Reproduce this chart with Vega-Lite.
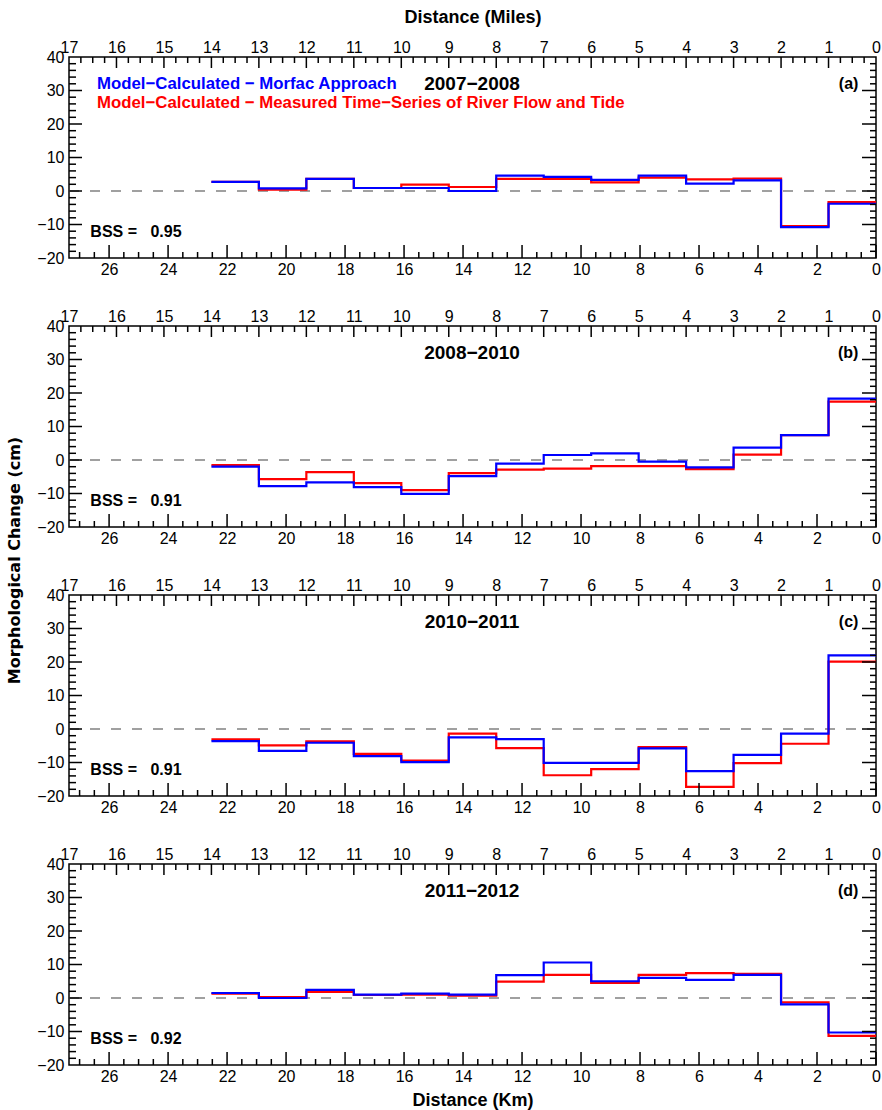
{
  "$schema": "https://vega.github.io/schema/vega-lite/v6.json",
  "padding": {"left": 5, "top": 7, "right": 2, "bottom": 0},
  "bounds": "flush",
  "spacing": 68,
  "background": "white",
  "datasets": {
    "kmMaj": [{"k":0},{"k":2},{"k":4},{"k":6},{"k":8},{"k":10},{"k":12},{"k":14},{"k":16},{"k":18},{"k":20},{"k":22},{"k":24},{"k":26}],
    "kmMin": [{"k":0.5},{"k":1},{"k":1.5},{"k":2.5},{"k":3},{"k":3.5},{"k":4.5},{"k":5},{"k":5.5},{"k":6.5},{"k":7},{"k":7.5},{"k":8.5},{"k":9},{"k":9.5},{"k":10.5},{"k":11},{"k":11.5},{"k":12.5},{"k":13},{"k":13.5},{"k":14.5},{"k":15},{"k":15.5},{"k":16.5},{"k":17},{"k":17.5},{"k":18.5},{"k":19},{"k":19.5},{"k":20.5},{"k":21},{"k":21.5},{"k":22.5},{"k":23},{"k":23.5},{"k":24.5},{"k":25},{"k":25.5},{"k":26.5},{"k":27}],
    "miMaj": [{"mi":1},{"mi":2},{"mi":3},{"mi":4},{"mi":5},{"mi":6},{"mi":7},{"mi":8},{"mi":9},{"mi":10},{"mi":11},{"mi":12},{"mi":13},{"mi":14},{"mi":15},{"mi":16}],
    "miMin": [{"mi":0.25},{"mi":0.5},{"mi":0.75},{"mi":1.25},{"mi":1.5},{"mi":1.75},{"mi":2.25},{"mi":2.5},{"mi":2.75},{"mi":3.25},{"mi":3.5},{"mi":3.75},{"mi":4.25},{"mi":4.5},{"mi":4.75},{"mi":5.25},{"mi":5.5},{"mi":5.75},{"mi":6.25},{"mi":6.5},{"mi":6.75},{"mi":7.25},{"mi":7.5},{"mi":7.75},{"mi":8.25},{"mi":8.5},{"mi":8.75},{"mi":9.25},{"mi":9.5},{"mi":9.75},{"mi":10.25},{"mi":10.5},{"mi":10.75},{"mi":11.25},{"mi":11.5},{"mi":11.75},{"mi":12.25},{"mi":12.5},{"mi":12.75},{"mi":13.25},{"mi":13.5},{"mi":13.75},{"mi":14.25},{"mi":14.5},{"mi":14.75},{"mi":15.25},{"mi":15.5},{"mi":15.75},{"mi":16.25},{"mi":16.5},{"mi":16.75}],
    "yMaj": [{"yv":-10},{"yv":0},{"yv":10},{"yv":20},{"yv":30}],
    "yMin": [{"yv":-18},{"yv":-16},{"yv":-14},{"yv":-12},{"yv":-8},{"yv":-6},{"yv":-4},{"yv":-2},{"yv":2},{"yv":4},{"yv":6},{"yv":8},{"yv":12},{"yv":14},{"yv":16},{"yv":18},{"yv":22},{"yv":24},{"yv":26},{"yv":28},{"yv":32},{"yv":34},{"yv":36},{"yv":38}],
    "a": [
      {"s":"red","m":0,"v":-3.3},{"s":"red","m":1,"v":-10.5},{"s":"red","m":2,"v":3.7},{"s":"red","m":3,"v":3.5},{"s":"red","m":4,"v":4.0},{"s":"red","m":5,"v":2.6},{"s":"red","m":6,"v":3.6},{"s":"red","m":7,"v":3.6},{"s":"red","m":8,"v":1.2},{"s":"red","m":9,"v":1.9},{"s":"red","m":10,"v":0.9},{"s":"red","m":11,"v":3.6},{"s":"red","m":12,"v":0.4},{"s":"red","m":13,"v":2.7},{"s":"red","m":14,"v":2.7},
      {"s":"blue","m":0,"v":-3.8},{"s":"blue","m":1,"v":-10.8},{"s":"blue","m":2,"v":3.2},{"s":"blue","m":3,"v":2.2},{"s":"blue","m":4,"v":4.6},{"s":"blue","m":5,"v":3.3},{"s":"blue","m":6,"v":4.2},{"s":"blue","m":7,"v":4.6},{"s":"blue","m":8,"v":0.0},{"s":"blue","m":9,"v":0.9},{"s":"blue","m":10,"v":0.9},{"s":"blue","m":11,"v":3.6},{"s":"blue","m":12,"v":0.8},{"s":"blue","m":13,"v":2.7},{"s":"blue","m":14,"v":2.7}
    ],
    "b": [
      {"s":"red","m":0,"v":17.4},{"s":"red","m":1,"v":7.4},{"s":"red","m":2,"v":1.6},{"s":"red","m":3,"v":-2.7},{"s":"red","m":4,"v":-1.8},{"s":"red","m":5,"v":-1.8},{"s":"red","m":6,"v":-2.6},{"s":"red","m":7,"v":-2.9},{"s":"red","m":8,"v":-3.9},{"s":"red","m":9,"v":-9.0},{"s":"red","m":10,"v":-6.9},{"s":"red","m":11,"v":-3.6},{"s":"red","m":12,"v":-5.7},{"s":"red","m":13,"v":-1.5},{"s":"red","m":14,"v":-1.5},
      {"s":"blue","m":0,"v":18.3},{"s":"blue","m":1,"v":7.4},{"s":"blue","m":2,"v":3.7},{"s":"blue","m":3,"v":-2.2},{"s":"blue","m":4,"v":-0.5},{"s":"blue","m":5,"v":2.0},{"s":"blue","m":6,"v":1.5},{"s":"blue","m":7,"v":-1.1},{"s":"blue","m":8,"v":-4.8},{"s":"blue","m":9,"v":-10.1},{"s":"blue","m":10,"v":-8.1},{"s":"blue","m":11,"v":-6.7},{"s":"blue","m":12,"v":-7.8},{"s":"blue","m":13,"v":-2.0},{"s":"blue","m":14,"v":-2.0}
    ],
    "c": [
      {"s":"red","m":0,"v":20.1},{"s":"red","m":1,"v":-4.4},{"s":"red","m":2,"v":-10.2},{"s":"red","m":3,"v":-17.3},{"s":"red","m":4,"v":-5.4},{"s":"red","m":5,"v":-12.0},{"s":"red","m":6,"v":-13.8},{"s":"red","m":7,"v":-5.7},{"s":"red","m":8,"v":-1.4},{"s":"red","m":9,"v":-9.4},{"s":"red","m":10,"v":-7.4},{"s":"red","m":11,"v":-3.7},{"s":"red","m":12,"v":-4.9},{"s":"red","m":13,"v":-3.1},{"s":"red","m":14,"v":-3.1},
      {"s":"blue","m":0,"v":22.0},{"s":"blue","m":1,"v":-1.4},{"s":"blue","m":2,"v":-7.7},{"s":"blue","m":3,"v":-12.6},{"s":"blue","m":4,"v":-5.8},{"s":"blue","m":5,"v":-10.1},{"s":"blue","m":6,"v":-10.1},{"s":"blue","m":7,"v":-3.0},{"s":"blue","m":8,"v":-2.5},{"s":"blue","m":9,"v":-9.9},{"s":"blue","m":10,"v":-8.1},{"s":"blue","m":11,"v":-4.1},{"s":"blue","m":12,"v":-6.5},{"s":"blue","m":13,"v":-3.6},{"s":"blue","m":14,"v":-3.6}
    ],
    "d": [
      {"s":"red","m":0,"v":-11.3},{"s":"red","m":1,"v":-1.3},{"s":"red","m":2,"v":7.2},{"s":"red","m":3,"v":7.4},{"s":"red","m":4,"v":6.9},{"s":"red","m":5,"v":4.5},{"s":"red","m":6,"v":6.9},{"s":"red","m":7,"v":4.9},{"s":"red","m":8,"v":0.7},{"s":"red","m":9,"v":1.0},{"s":"red","m":10,"v":0.9},{"s":"red","m":11,"v":1.8},{"s":"red","m":12,"v":0.3},{"s":"red","m":13,"v":1.3},{"s":"red","m":14,"v":1.3},
      {"s":"blue","m":0,"v":-10.3},{"s":"blue","m":1,"v":-1.9},{"s":"blue","m":2,"v":6.9},{"s":"blue","m":3,"v":5.4},{"s":"blue","m":4,"v":6.0},{"s":"blue","m":5,"v":5.0},{"s":"blue","m":6,"v":10.6},{"s":"blue","m":7,"v":6.8},{"s":"blue","m":8,"v":1.0},{"s":"blue","m":9,"v":1.3},{"s":"blue","m":10,"v":1.0},{"s":"blue","m":11,"v":2.4},{"s":"blue","m":12,"v":0.0},{"s":"blue","m":13,"v":1.5},{"s":"blue","m":14,"v":1.5}
    ]
  },
  "vconcat": [
    {
      "width": 807, "height": 201,
      "layer": [
        {
          "data": {"values": [{"ref": 0}]},
          "mark": {"type": "rule", "strokeDash": [10, 11], "color": "#a0a0a0", "strokeWidth": 2},
          "encoding": {
            "x": {"datum": 27.359, "type": "quantitative", "scale": {"domain": [0, 27.359], "reverse": true, "nice": false, "zero": false},
                  "axis": {"orient": "bottom", "values": [0,2,4,6,8,10,12,14,16,18,20,22,24,26], "tickCount": 1000, "format": "d", "grid": false, "domain": false, "ticks": false, "labelFont": "Liberation Sans", "labelFontSize": 16, "labelColor": "#000000", "labelFlush": false, "labelOverlap": false, "labelPadding": 3, "title": null}},
            "x2": {"datum": 0},
            "y": {"field": "ref", "type": "quantitative", "scale": {"domain": [-20, 40], "nice": false, "zero": false}, "axis": null}
          }
        },
        {
          "data": {"name": "a"},
          "layer": [
            {
              "transform": [{"filter": "datum.s === 'red'"}],
              "mark": {"type": "line", "interpolate": "step-after", "color": "#ff0000", "strokeWidth": 2.2},
              "encoding": {
                "x": {"field": "m", "type": "quantitative", "scale": {"domain": [0, 17], "reverse": true, "nice": false, "zero": false},
                      "axis": {"orient": "top", "values": [0,1,2,3,4,5,6,7,8,9,10,11,12,13,14,15,16,17], "tickCount": 1000, "format": "d", "grid": false, "domain": false, "ticks": false, "labelFont": "Liberation Sans", "labelFontSize": 16, "labelColor": "#000000", "labelFlush": false, "labelOverlap": false, "labelPadding": 2,
                               "title": "Distance (Miles)", "titleFont": "Liberation Sans", "titleFontSize": 18, "titleFontWeight": "bold", "titleColor": "#000000", "titlePadding": 13}},
                "y": {"field": "v", "type": "quantitative", "scale": {"domain": [-20, 40], "nice": false, "zero": false},
                      "axis": {"orient": "left", "values": [-20,-10,0,10,20,30,40], "tickCount": 1000, "format": "d", "grid": false, "domain": false, "ticks": false, "labelFont": "Liberation Sans", "labelFontSize": 16, "labelColor": "#000000", "labelFlush": false, "labelOverlap": false, "labelPadding": 5, "title": null}},
                "order": {"field": "m", "type": "quantitative", "sort": "ascending"}
              }
            },
            {
              "transform": [{"filter": "datum.s === 'blue'"}],
              "mark": {"type": "line", "interpolate": "step-after", "color": "#0000ff", "strokeWidth": 2.2},
              "encoding": {"x": {"field": "m", "type": "quantitative"}, "y": {"field": "v", "type": "quantitative"}, "order": {"field": "m", "type": "quantitative", "sort": "ascending"}}
            },
            {
              "data": {"values": [{"t": "Model\u2212Calculated \u2212 Morfac Approach"}]},
              "mark": {"type": "text", "align": "left", "baseline": "middle", "font": "Liberation Sans", "fontSize": 16.8, "fontWeight": "bold", "color": "#0000ff"},
              "encoding": {"x": {"datum": 16.41, "type": "quantitative"}, "y": {"datum": 31.8, "type": "quantitative"}, "text": {"field": "t"}}
            },
            {
              "data": {"values": [{"t": "Model\u2212Calculated \u2212 Measured Time\u2212Series of River Flow and Tide"}]},
              "mark": {"type": "text", "align": "left", "baseline": "middle", "font": "Liberation Sans", "fontSize": 16.8, "fontWeight": "bold", "color": "#ff0000"},
              "encoding": {"x": {"datum": 16.41, "type": "quantitative"}, "y": {"datum": 26.3, "type": "quantitative"}, "text": {"field": "t"}}
            },
            {
              "data": {"values": [{"t": "2007\u22122008"}]},
              "mark": {"type": "text", "align": "center", "baseline": "middle", "font": "Liberation Sans", "fontSize": 19, "fontWeight": "bold", "color": "black"},
              "encoding": {"x": {"datum": 8.51, "type": "quantitative"}, "y": {"datum": 32, "type": "quantitative"}, "text": {"field": "t"}}
            },
            {
              "data": {"values": [{"t": "(a)"}]},
              "mark": {"type": "text", "align": "right", "baseline": "middle", "font": "Liberation Sans", "fontSize": 16, "fontWeight": "bold", "color": "black"},
              "encoding": {"x": {"datum": 0.37, "type": "quantitative"}, "y": {"datum": 32, "type": "quantitative"}, "text": {"field": "t"}}
            },
            {
              "data": {"values": [{"t": "BSS =\u00a0\u00a0\u00a00.95"}]},
              "mark": {"type": "text", "align": "left", "baseline": "middle", "font": "Liberation Sans", "fontSize": 16, "fontWeight": "bold", "color": "black"},
              "encoding": {"x": {"datum": 16.55, "type": "quantitative"}, "y": {"datum": -12.2, "type": "quantitative"}, "text": {"field": "t"}}
            }
          ]
        },
        {"data": {"name": "kmMaj"}, "mark": {"type": "rule", "color": "#000000", "strokeWidth": 1.5},
         "encoding": {"x": {"field": "k", "type": "quantitative", "scale": {"domain": [0, 27.359], "reverse": true, "nice": false, "zero": false}, "axis": null},
                      "y": {"datum": -20, "type": "quantitative", "scale": {"domain": [-20, 40], "nice": false, "zero": false}, "axis": null}, "y2": {"datum": -16.12}}},
        {"data": {"name": "kmMin"}, "mark": {"type": "rule", "color": "#000000", "strokeWidth": 1.5},
         "encoding": {"x": {"field": "k", "type": "quantitative", "scale": {"domain": [0, 27.359], "reverse": true, "nice": false, "zero": false}, "axis": null},
                      "y": {"datum": -20, "type": "quantitative", "scale": {"domain": [-20, 40], "nice": false, "zero": false}, "axis": null}, "y2": {"datum": -18.21}}},
        {"data": {"name": "miMaj"}, "mark": {"type": "rule", "color": "#000000", "strokeWidth": 1.5},
         "encoding": {"x": {"field": "mi", "type": "quantitative", "scale": {"domain": [0, 17], "reverse": true, "nice": false, "zero": false}, "axis": null},
                      "y": {"datum": 40, "type": "quantitative", "scale": {"domain": [-20, 40], "nice": false, "zero": false}, "axis": null}, "y2": {"datum": 36.72}}},
        {"data": {"name": "miMin"}, "mark": {"type": "rule", "color": "#000000", "strokeWidth": 1.5},
         "encoding": {"x": {"field": "mi", "type": "quantitative", "scale": {"domain": [0, 17], "reverse": true, "nice": false, "zero": false}, "axis": null},
                      "y": {"datum": 40, "type": "quantitative", "scale": {"domain": [-20, 40], "nice": false, "zero": false}, "axis": null}, "y2": {"datum": 38.21}}},
        {"data": {"name": "yMaj"}, "mark": {"type": "rule", "color": "#000000", "strokeWidth": 1.5},
         "encoding": {"y": {"field": "yv", "type": "quantitative", "scale": {"domain": [-20, 40], "nice": false, "zero": false}, "axis": null},
                      "x": {"datum": 27.359, "type": "quantitative", "scale": {"domain": [0, 27.359], "reverse": true, "nice": false, "zero": false}, "axis": null}, "x2": {"datum": 26.918}}},
        {"data": {"name": "yMin"}, "mark": {"type": "rule", "color": "#000000", "strokeWidth": 1.5},
         "encoding": {"y": {"field": "yv", "type": "quantitative", "scale": {"domain": [-20, 40], "nice": false, "zero": false}, "axis": null},
                      "x": {"datum": 27.359, "type": "quantitative", "scale": {"domain": [0, 27.359], "reverse": true, "nice": false, "zero": false}, "axis": null}, "x2": {"datum": 27.122}}},
        {"data": {"name": "yMaj"}, "mark": {"type": "rule", "color": "#000000", "strokeWidth": 1.5},
         "encoding": {"y": {"field": "yv", "type": "quantitative", "scale": {"domain": [-20, 40], "nice": false, "zero": false}, "axis": null},
                      "x": {"datum": 0, "type": "quantitative", "scale": {"domain": [0, 27.359], "reverse": true, "nice": false, "zero": false}, "axis": null}, "x2": {"datum": 0.4746}}},
        {"data": {"name": "yMin"}, "mark": {"type": "rule", "color": "#000000", "strokeWidth": 1.5},
         "encoding": {"y": {"field": "yv", "type": "quantitative", "scale": {"domain": [-20, 40], "nice": false, "zero": false}, "axis": null},
                      "x": {"datum": 0, "type": "quantitative", "scale": {"domain": [0, 27.359], "reverse": true, "nice": false, "zero": false}, "axis": null}, "x2": {"datum": 0.2034}}}
      ],
      "resolve": {"scale": {"x": "independent", "y": "independent"}, "axis": {"x": "independent", "y": "independent"}}
    },
    {
      "width": 807, "height": 201,
      "layer": [
        {
          "data": {"values": [{"ref": 0}]},
          "mark": {"type": "rule", "strokeDash": [10, 11], "color": "#a0a0a0", "strokeWidth": 2},
          "encoding": {
            "x": {"datum": 27.359, "type": "quantitative", "scale": {"domain": [0, 27.359], "reverse": true, "nice": false, "zero": false},
                  "axis": {"orient": "bottom", "values": [0,2,4,6,8,10,12,14,16,18,20,22,24,26], "tickCount": 1000, "format": "d", "grid": false, "domain": false, "ticks": false, "labelFont": "Liberation Sans", "labelFontSize": 16, "labelColor": "#000000", "labelFlush": false, "labelOverlap": false, "labelPadding": 3, "title": null}},
            "x2": {"datum": 0},
            "y": {"field": "ref", "type": "quantitative", "scale": {"domain": [-20, 40], "nice": false, "zero": false}, "axis": null}
          }
        },
        {
          "data": {"name": "b"},
          "layer": [
            {
              "transform": [{"filter": "datum.s === 'red'"}],
              "mark": {"type": "line", "interpolate": "step-after", "color": "#ff0000", "strokeWidth": 2.2},
              "encoding": {
                "x": {"field": "m", "type": "quantitative", "scale": {"domain": [0, 17], "reverse": true, "nice": false, "zero": false},
                      "axis": {"orient": "top", "values": [0,1,2,3,4,5,6,7,8,9,10,11,12,13,14,15,16,17], "tickCount": 1000, "format": "d", "grid": false, "domain": false, "ticks": false, "labelFont": "Liberation Sans", "labelFontSize": 16, "labelColor": "#000000", "labelFlush": false, "labelOverlap": false, "labelPadding": 2, "title": null}},
                "y": {"field": "v", "type": "quantitative", "scale": {"domain": [-20, 40], "nice": false, "zero": false},
                      "axis": {"orient": "left", "values": [-20,-10,0,10,20,30,40], "tickCount": 1000, "format": "d", "grid": false, "domain": false, "ticks": false, "labelFont": "Liberation Sans", "labelFontSize": 16, "labelColor": "#000000", "labelFlush": false, "labelOverlap": false, "labelPadding": 5,
                               "title": "Morphological Change (cm)", "titleFont": "DejaVu Sans", "titleFontSize": 16, "titleFontWeight": "bold", "titleColor": "#000000",
                               "titleAngle": 270, "titleAlign": "center", "titleBaseline": "alphabetic", "titleX": -50, "titleY": 234}},
                "order": {"field": "m", "type": "quantitative", "sort": "ascending"}
              }
            },
            {
              "transform": [{"filter": "datum.s === 'blue'"}],
              "mark": {"type": "line", "interpolate": "step-after", "color": "#0000ff", "strokeWidth": 2.2},
              "encoding": {"x": {"field": "m", "type": "quantitative"}, "y": {"field": "v", "type": "quantitative"}, "order": {"field": "m", "type": "quantitative", "sort": "ascending"}}
            },
            {
              "data": {"values": [{"t": "2008\u22122010"}]},
              "mark": {"type": "text", "align": "center", "baseline": "middle", "font": "Liberation Sans", "fontSize": 19, "fontWeight": "bold", "color": "black"},
              "encoding": {"x": {"datum": 8.51, "type": "quantitative"}, "y": {"datum": 32, "type": "quantitative"}, "text": {"field": "t"}}
            },
            {
              "data": {"values": [{"t": "(b)"}]},
              "mark": {"type": "text", "align": "right", "baseline": "middle", "font": "Liberation Sans", "fontSize": 16, "fontWeight": "bold", "color": "black"},
              "encoding": {"x": {"datum": 0.37, "type": "quantitative"}, "y": {"datum": 32, "type": "quantitative"}, "text": {"field": "t"}}
            },
            {
              "data": {"values": [{"t": "BSS =\u00a0\u00a0\u00a00.91"}]},
              "mark": {"type": "text", "align": "left", "baseline": "middle", "font": "Liberation Sans", "fontSize": 16, "fontWeight": "bold", "color": "black"},
              "encoding": {"x": {"datum": 16.55, "type": "quantitative"}, "y": {"datum": -12.2, "type": "quantitative"}, "text": {"field": "t"}}
            }
          ]
        },
        {"data": {"name": "kmMaj"}, "mark": {"type": "rule", "color": "#000000", "strokeWidth": 1.5},
         "encoding": {"x": {"field": "k", "type": "quantitative", "scale": {"domain": [0, 27.359], "reverse": true, "nice": false, "zero": false}, "axis": null},
                      "y": {"datum": -20, "type": "quantitative", "scale": {"domain": [-20, 40], "nice": false, "zero": false}, "axis": null}, "y2": {"datum": -16.12}}},
        {"data": {"name": "kmMin"}, "mark": {"type": "rule", "color": "#000000", "strokeWidth": 1.5},
         "encoding": {"x": {"field": "k", "type": "quantitative", "scale": {"domain": [0, 27.359], "reverse": true, "nice": false, "zero": false}, "axis": null},
                      "y": {"datum": -20, "type": "quantitative", "scale": {"domain": [-20, 40], "nice": false, "zero": false}, "axis": null}, "y2": {"datum": -18.21}}},
        {"data": {"name": "miMaj"}, "mark": {"type": "rule", "color": "#000000", "strokeWidth": 1.5},
         "encoding": {"x": {"field": "mi", "type": "quantitative", "scale": {"domain": [0, 17], "reverse": true, "nice": false, "zero": false}, "axis": null},
                      "y": {"datum": 40, "type": "quantitative", "scale": {"domain": [-20, 40], "nice": false, "zero": false}, "axis": null}, "y2": {"datum": 36.72}}},
        {"data": {"name": "miMin"}, "mark": {"type": "rule", "color": "#000000", "strokeWidth": 1.5},
         "encoding": {"x": {"field": "mi", "type": "quantitative", "scale": {"domain": [0, 17], "reverse": true, "nice": false, "zero": false}, "axis": null},
                      "y": {"datum": 40, "type": "quantitative", "scale": {"domain": [-20, 40], "nice": false, "zero": false}, "axis": null}, "y2": {"datum": 38.21}}},
        {"data": {"name": "yMaj"}, "mark": {"type": "rule", "color": "#000000", "strokeWidth": 1.5},
         "encoding": {"y": {"field": "yv", "type": "quantitative", "scale": {"domain": [-20, 40], "nice": false, "zero": false}, "axis": null},
                      "x": {"datum": 27.359, "type": "quantitative", "scale": {"domain": [0, 27.359], "reverse": true, "nice": false, "zero": false}, "axis": null}, "x2": {"datum": 26.918}}},
        {"data": {"name": "yMin"}, "mark": {"type": "rule", "color": "#000000", "strokeWidth": 1.5},
         "encoding": {"y": {"field": "yv", "type": "quantitative", "scale": {"domain": [-20, 40], "nice": false, "zero": false}, "axis": null},
                      "x": {"datum": 27.359, "type": "quantitative", "scale": {"domain": [0, 27.359], "reverse": true, "nice": false, "zero": false}, "axis": null}, "x2": {"datum": 27.122}}},
        {"data": {"name": "yMaj"}, "mark": {"type": "rule", "color": "#000000", "strokeWidth": 1.5},
         "encoding": {"y": {"field": "yv", "type": "quantitative", "scale": {"domain": [-20, 40], "nice": false, "zero": false}, "axis": null},
                      "x": {"datum": 0, "type": "quantitative", "scale": {"domain": [0, 27.359], "reverse": true, "nice": false, "zero": false}, "axis": null}, "x2": {"datum": 0.4746}}},
        {"data": {"name": "yMin"}, "mark": {"type": "rule", "color": "#000000", "strokeWidth": 1.5},
         "encoding": {"y": {"field": "yv", "type": "quantitative", "scale": {"domain": [-20, 40], "nice": false, "zero": false}, "axis": null},
                      "x": {"datum": 0, "type": "quantitative", "scale": {"domain": [0, 27.359], "reverse": true, "nice": false, "zero": false}, "axis": null}, "x2": {"datum": 0.2034}}}
      ],
      "resolve": {"scale": {"x": "independent", "y": "independent"}, "axis": {"x": "independent", "y": "independent"}}
    },
    {
      "width": 807, "height": 201,
      "layer": [
        {
          "data": {"values": [{"ref": 0}]},
          "mark": {"type": "rule", "strokeDash": [10, 11], "color": "#a0a0a0", "strokeWidth": 2},
          "encoding": {
            "x": {"datum": 27.359, "type": "quantitative", "scale": {"domain": [0, 27.359], "reverse": true, "nice": false, "zero": false},
                  "axis": {"orient": "bottom", "values": [0,2,4,6,8,10,12,14,16,18,20,22,24,26], "tickCount": 1000, "format": "d", "grid": false, "domain": false, "ticks": false, "labelFont": "Liberation Sans", "labelFontSize": 16, "labelColor": "#000000", "labelFlush": false, "labelOverlap": false, "labelPadding": 3, "title": null}},
            "x2": {"datum": 0},
            "y": {"field": "ref", "type": "quantitative", "scale": {"domain": [-20, 40], "nice": false, "zero": false}, "axis": null}
          }
        },
        {
          "data": {"name": "c"},
          "layer": [
            {
              "transform": [{"filter": "datum.s === 'red'"}],
              "mark": {"type": "line", "interpolate": "step-after", "color": "#ff0000", "strokeWidth": 2.2},
              "encoding": {
                "x": {"field": "m", "type": "quantitative", "scale": {"domain": [0, 17], "reverse": true, "nice": false, "zero": false},
                      "axis": {"orient": "top", "values": [0,1,2,3,4,5,6,7,8,9,10,11,12,13,14,15,16,17], "tickCount": 1000, "format": "d", "grid": false, "domain": false, "ticks": false, "labelFont": "Liberation Sans", "labelFontSize": 16, "labelColor": "#000000", "labelFlush": false, "labelOverlap": false, "labelPadding": 2, "title": null}},
                "y": {"field": "v", "type": "quantitative", "scale": {"domain": [-20, 40], "nice": false, "zero": false},
                      "axis": {"orient": "left", "values": [-20,-10,0,10,20,30,40], "tickCount": 1000, "format": "d", "grid": false, "domain": false, "ticks": false, "labelFont": "Liberation Sans", "labelFontSize": 16, "labelColor": "#000000", "labelFlush": false, "labelOverlap": false, "labelPadding": 5, "title": null}},
                "order": {"field": "m", "type": "quantitative", "sort": "ascending"}
              }
            },
            {
              "transform": [{"filter": "datum.s === 'blue'"}],
              "mark": {"type": "line", "interpolate": "step-after", "color": "#0000ff", "strokeWidth": 2.2},
              "encoding": {"x": {"field": "m", "type": "quantitative"}, "y": {"field": "v", "type": "quantitative"}, "order": {"field": "m", "type": "quantitative", "sort": "ascending"}}
            },
            {
              "data": {"values": [{"t": "2010\u22122011"}]},
              "mark": {"type": "text", "align": "center", "baseline": "middle", "font": "Liberation Sans", "fontSize": 19, "fontWeight": "bold", "color": "black"},
              "encoding": {"x": {"datum": 8.51, "type": "quantitative"}, "y": {"datum": 32, "type": "quantitative"}, "text": {"field": "t"}}
            },
            {
              "data": {"values": [{"t": "(c)"}]},
              "mark": {"type": "text", "align": "right", "baseline": "middle", "font": "Liberation Sans", "fontSize": 16, "fontWeight": "bold", "color": "black"},
              "encoding": {"x": {"datum": 0.37, "type": "quantitative"}, "y": {"datum": 32, "type": "quantitative"}, "text": {"field": "t"}}
            },
            {
              "data": {"values": [{"t": "BSS =\u00a0\u00a0\u00a00.91"}]},
              "mark": {"type": "text", "align": "left", "baseline": "middle", "font": "Liberation Sans", "fontSize": 16, "fontWeight": "bold", "color": "black"},
              "encoding": {"x": {"datum": 16.55, "type": "quantitative"}, "y": {"datum": -12.2, "type": "quantitative"}, "text": {"field": "t"}}
            }
          ]
        },
        {"data": {"name": "kmMaj"}, "mark": {"type": "rule", "color": "#000000", "strokeWidth": 1.5},
         "encoding": {"x": {"field": "k", "type": "quantitative", "scale": {"domain": [0, 27.359], "reverse": true, "nice": false, "zero": false}, "axis": null},
                      "y": {"datum": -20, "type": "quantitative", "scale": {"domain": [-20, 40], "nice": false, "zero": false}, "axis": null}, "y2": {"datum": -16.12}}},
        {"data": {"name": "kmMin"}, "mark": {"type": "rule", "color": "#000000", "strokeWidth": 1.5},
         "encoding": {"x": {"field": "k", "type": "quantitative", "scale": {"domain": [0, 27.359], "reverse": true, "nice": false, "zero": false}, "axis": null},
                      "y": {"datum": -20, "type": "quantitative", "scale": {"domain": [-20, 40], "nice": false, "zero": false}, "axis": null}, "y2": {"datum": -18.21}}},
        {"data": {"name": "miMaj"}, "mark": {"type": "rule", "color": "#000000", "strokeWidth": 1.5},
         "encoding": {"x": {"field": "mi", "type": "quantitative", "scale": {"domain": [0, 17], "reverse": true, "nice": false, "zero": false}, "axis": null},
                      "y": {"datum": 40, "type": "quantitative", "scale": {"domain": [-20, 40], "nice": false, "zero": false}, "axis": null}, "y2": {"datum": 36.72}}},
        {"data": {"name": "miMin"}, "mark": {"type": "rule", "color": "#000000", "strokeWidth": 1.5},
         "encoding": {"x": {"field": "mi", "type": "quantitative", "scale": {"domain": [0, 17], "reverse": true, "nice": false, "zero": false}, "axis": null},
                      "y": {"datum": 40, "type": "quantitative", "scale": {"domain": [-20, 40], "nice": false, "zero": false}, "axis": null}, "y2": {"datum": 38.21}}},
        {"data": {"name": "yMaj"}, "mark": {"type": "rule", "color": "#000000", "strokeWidth": 1.5},
         "encoding": {"y": {"field": "yv", "type": "quantitative", "scale": {"domain": [-20, 40], "nice": false, "zero": false}, "axis": null},
                      "x": {"datum": 27.359, "type": "quantitative", "scale": {"domain": [0, 27.359], "reverse": true, "nice": false, "zero": false}, "axis": null}, "x2": {"datum": 26.918}}},
        {"data": {"name": "yMin"}, "mark": {"type": "rule", "color": "#000000", "strokeWidth": 1.5},
         "encoding": {"y": {"field": "yv", "type": "quantitative", "scale": {"domain": [-20, 40], "nice": false, "zero": false}, "axis": null},
                      "x": {"datum": 27.359, "type": "quantitative", "scale": {"domain": [0, 27.359], "reverse": true, "nice": false, "zero": false}, "axis": null}, "x2": {"datum": 27.122}}},
        {"data": {"name": "yMaj"}, "mark": {"type": "rule", "color": "#000000", "strokeWidth": 1.5},
         "encoding": {"y": {"field": "yv", "type": "quantitative", "scale": {"domain": [-20, 40], "nice": false, "zero": false}, "axis": null},
                      "x": {"datum": 0, "type": "quantitative", "scale": {"domain": [0, 27.359], "reverse": true, "nice": false, "zero": false}, "axis": null}, "x2": {"datum": 0.4746}}},
        {"data": {"name": "yMin"}, "mark": {"type": "rule", "color": "#000000", "strokeWidth": 1.5},
         "encoding": {"y": {"field": "yv", "type": "quantitative", "scale": {"domain": [-20, 40], "nice": false, "zero": false}, "axis": null},
                      "x": {"datum": 0, "type": "quantitative", "scale": {"domain": [0, 27.359], "reverse": true, "nice": false, "zero": false}, "axis": null}, "x2": {"datum": 0.2034}}}
      ],
      "resolve": {"scale": {"x": "independent", "y": "independent"}, "axis": {"x": "independent", "y": "independent"}}
    },
    {
      "width": 807, "height": 201,
      "layer": [
        {
          "data": {"values": [{"ref": 0}]},
          "mark": {"type": "rule", "strokeDash": [10, 11], "color": "#a0a0a0", "strokeWidth": 2},
          "encoding": {
            "x": {"datum": 27.359, "type": "quantitative", "scale": {"domain": [0, 27.359], "reverse": true, "nice": false, "zero": false},
                  "axis": {"orient": "bottom", "values": [0,2,4,6,8,10,12,14,16,18,20,22,24,26], "tickCount": 1000, "format": "d", "grid": false, "domain": false, "ticks": false, "labelFont": "Liberation Sans", "labelFontSize": 16, "labelColor": "#000000", "labelFlush": false, "labelOverlap": false, "labelPadding": 3,
                           "title": "Distance (Km)", "titleFont": "Liberation Sans", "titleFontSize": 18, "titleFontWeight": "bold", "titleColor": "#000000", "titlePadding": 7}},
            "x2": {"datum": 0},
            "y": {"field": "ref", "type": "quantitative", "scale": {"domain": [-20, 40], "nice": false, "zero": false}, "axis": null}
          }
        },
        {
          "data": {"name": "d"},
          "layer": [
            {
              "transform": [{"filter": "datum.s === 'red'"}],
              "mark": {"type": "line", "interpolate": "step-after", "color": "#ff0000", "strokeWidth": 2.2},
              "encoding": {
                "x": {"field": "m", "type": "quantitative", "scale": {"domain": [0, 17], "reverse": true, "nice": false, "zero": false},
                      "axis": {"orient": "top", "values": [0,1,2,3,4,5,6,7,8,9,10,11,12,13,14,15,16,17], "tickCount": 1000, "format": "d", "grid": false, "domain": false, "ticks": false, "labelFont": "Liberation Sans", "labelFontSize": 16, "labelColor": "#000000", "labelFlush": false, "labelOverlap": false, "labelPadding": 2, "title": null}},
                "y": {"field": "v", "type": "quantitative", "scale": {"domain": [-20, 40], "nice": false, "zero": false},
                      "axis": {"orient": "left", "values": [-20,-10,0,10,20,30,40], "tickCount": 1000, "format": "d", "grid": false, "domain": false, "ticks": false, "labelFont": "Liberation Sans", "labelFontSize": 16, "labelColor": "#000000", "labelFlush": false, "labelOverlap": false, "labelPadding": 5, "title": null}},
                "order": {"field": "m", "type": "quantitative", "sort": "ascending"}
              }
            },
            {
              "transform": [{"filter": "datum.s === 'blue'"}],
              "mark": {"type": "line", "interpolate": "step-after", "color": "#0000ff", "strokeWidth": 2.2},
              "encoding": {"x": {"field": "m", "type": "quantitative"}, "y": {"field": "v", "type": "quantitative"}, "order": {"field": "m", "type": "quantitative", "sort": "ascending"}}
            },
            {
              "data": {"values": [{"t": "2011\u22122012"}]},
              "mark": {"type": "text", "align": "center", "baseline": "middle", "font": "Liberation Sans", "fontSize": 19, "fontWeight": "bold", "color": "black"},
              "encoding": {"x": {"datum": 8.51, "type": "quantitative"}, "y": {"datum": 32, "type": "quantitative"}, "text": {"field": "t"}}
            },
            {
              "data": {"values": [{"t": "(d)"}]},
              "mark": {"type": "text", "align": "right", "baseline": "middle", "font": "Liberation Sans", "fontSize": 16, "fontWeight": "bold", "color": "black"},
              "encoding": {"x": {"datum": 0.37, "type": "quantitative"}, "y": {"datum": 32, "type": "quantitative"}, "text": {"field": "t"}}
            },
            {
              "data": {"values": [{"t": "BSS =\u00a0\u00a0\u00a00.92"}]},
              "mark": {"type": "text", "align": "left", "baseline": "middle", "font": "Liberation Sans", "fontSize": 16, "fontWeight": "bold", "color": "black"},
              "encoding": {"x": {"datum": 16.55, "type": "quantitative"}, "y": {"datum": -12.2, "type": "quantitative"}, "text": {"field": "t"}}
            }
          ]
        },
        {"data": {"name": "kmMaj"}, "mark": {"type": "rule", "color": "#000000", "strokeWidth": 1.5},
         "encoding": {"x": {"field": "k", "type": "quantitative", "scale": {"domain": [0, 27.359], "reverse": true, "nice": false, "zero": false}, "axis": null},
                      "y": {"datum": -20, "type": "quantitative", "scale": {"domain": [-20, 40], "nice": false, "zero": false}, "axis": null}, "y2": {"datum": -16.12}}},
        {"data": {"name": "kmMin"}, "mark": {"type": "rule", "color": "#000000", "strokeWidth": 1.5},
         "encoding": {"x": {"field": "k", "type": "quantitative", "scale": {"domain": [0, 27.359], "reverse": true, "nice": false, "zero": false}, "axis": null},
                      "y": {"datum": -20, "type": "quantitative", "scale": {"domain": [-20, 40], "nice": false, "zero": false}, "axis": null}, "y2": {"datum": -18.21}}},
        {"data": {"name": "miMaj"}, "mark": {"type": "rule", "color": "#000000", "strokeWidth": 1.5},
         "encoding": {"x": {"field": "mi", "type": "quantitative", "scale": {"domain": [0, 17], "reverse": true, "nice": false, "zero": false}, "axis": null},
                      "y": {"datum": 40, "type": "quantitative", "scale": {"domain": [-20, 40], "nice": false, "zero": false}, "axis": null}, "y2": {"datum": 36.72}}},
        {"data": {"name": "miMin"}, "mark": {"type": "rule", "color": "#000000", "strokeWidth": 1.5},
         "encoding": {"x": {"field": "mi", "type": "quantitative", "scale": {"domain": [0, 17], "reverse": true, "nice": false, "zero": false}, "axis": null},
                      "y": {"datum": 40, "type": "quantitative", "scale": {"domain": [-20, 40], "nice": false, "zero": false}, "axis": null}, "y2": {"datum": 38.21}}},
        {"data": {"name": "yMaj"}, "mark": {"type": "rule", "color": "#000000", "strokeWidth": 1.5},
         "encoding": {"y": {"field": "yv", "type": "quantitative", "scale": {"domain": [-20, 40], "nice": false, "zero": false}, "axis": null},
                      "x": {"datum": 27.359, "type": "quantitative", "scale": {"domain": [0, 27.359], "reverse": true, "nice": false, "zero": false}, "axis": null}, "x2": {"datum": 26.918}}},
        {"data": {"name": "yMin"}, "mark": {"type": "rule", "color": "#000000", "strokeWidth": 1.5},
         "encoding": {"y": {"field": "yv", "type": "quantitative", "scale": {"domain": [-20, 40], "nice": false, "zero": false}, "axis": null},
                      "x": {"datum": 27.359, "type": "quantitative", "scale": {"domain": [0, 27.359], "reverse": true, "nice": false, "zero": false}, "axis": null}, "x2": {"datum": 27.122}}},
        {"data": {"name": "yMaj"}, "mark": {"type": "rule", "color": "#000000", "strokeWidth": 1.5},
         "encoding": {"y": {"field": "yv", "type": "quantitative", "scale": {"domain": [-20, 40], "nice": false, "zero": false}, "axis": null},
                      "x": {"datum": 0, "type": "quantitative", "scale": {"domain": [0, 27.359], "reverse": true, "nice": false, "zero": false}, "axis": null}, "x2": {"datum": 0.4746}}},
        {"data": {"name": "yMin"}, "mark": {"type": "rule", "color": "#000000", "strokeWidth": 1.5},
         "encoding": {"y": {"field": "yv", "type": "quantitative", "scale": {"domain": [-20, 40], "nice": false, "zero": false}, "axis": null},
                      "x": {"datum": 0, "type": "quantitative", "scale": {"domain": [0, 27.359], "reverse": true, "nice": false, "zero": false}, "axis": null}, "x2": {"datum": 0.2034}}}
      ],
      "resolve": {"scale": {"x": "independent", "y": "independent"}, "axis": {"x": "independent", "y": "independent"}}
    }
  ],
  "config": {
    "view": {"stroke": "black", "strokeWidth": 1.5}
  }
}
